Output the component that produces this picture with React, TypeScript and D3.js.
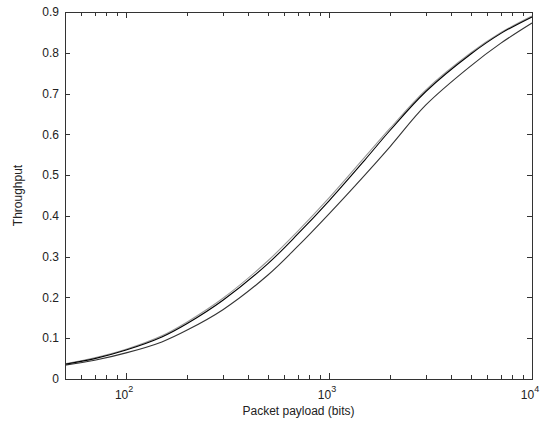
import React from "react";
import * as d3 from "d3";

const payload = [50, 70, 100, 150, 200, 300, 500, 700, 1000, 1500, 2000, 3000, 5000, 7000, 10000];
const throughputA = [0.036, 0.05, 0.071, 0.103, 0.136, 0.193, 0.283, 0.355, 0.437, 0.537, 0.61, 0.705, 0.797, 0.847, 0.888];
const throughputB = [0.037, 0.052, 0.073, 0.106, 0.14, 0.198, 0.29, 0.362, 0.444, 0.544, 0.615, 0.709, 0.8, 0.849, 0.89];
const throughputC = [0.034, 0.046, 0.064, 0.091, 0.12, 0.17, 0.255, 0.325, 0.405, 0.5, 0.57, 0.672, 0.768, 0.823, 0.873];
const yTicks = [0, 0.1, 0.2, 0.3, 0.4, 0.5, 0.6, 0.7, 0.8, 0.9];
const xMajor = [100, 1000, 10000];

const series = [
  { values: throughputC, color: "#333" },
  { values: throughputB, color: "#999" },
  { values: throughputA, color: "#000" },
];

export default function App() {
  const width = 542;
  const height = 427;
  const margin = { top: 12, right: 10, bottom: 48, left: 65 };
  const innerW = width - margin.left - margin.right;
  const innerH = height - margin.top - margin.bottom;

  const x = d3.scaleLog().domain([50, 10000]).range([0, innerW]);
  const y = d3.scaleLinear().domain([0, 0.9]).range([innerH, 0]);

  const line = d3
    .line<number>()
    .x((_, i) => x(payload[i]))
    .y((d) => y(d))
    .curve(d3.curveCatmullRom.alpha(0.5));

  const minor = x.ticks().filter((t) => t > 50 && t < 10000 && !xMajor.includes(t));
  const axisColor = "#333";
  const font = "Arial, 'Liberation Sans', sans-serif";

  return (
    <div style={{ position: "absolute", left: 0, top: 0 }}>
      <svg width={width} height={height} style={{ display: "block", background: "#fff" }}>
        <g transform={`translate(${margin.left},${margin.top})`}>
          {series.map((s, i) => (
            <path key={i} d={line(s.values) || ""} fill="none" stroke={s.color} strokeWidth={1.1} />
          ))}
          <rect x={0.5} y={0.5} width={innerW} height={innerH} fill="none" stroke={axisColor} strokeWidth={1} />
          {yTicks.map((t) => (
            <g key={t}>
              <line x1={0} x2={5} y1={Math.round(y(t)) + 0.5} y2={Math.round(y(t)) + 0.5} stroke={axisColor} />
              <line x1={innerW - 5} x2={innerW} y1={Math.round(y(t)) + 0.5} y2={Math.round(y(t)) + 0.5} stroke={axisColor} />
              <text x={-6} y={y(t)} dy="0.35em" textAnchor="end" fontSize={12} fontFamily={font} fill="#222">
                {t === 0 ? "0" : d3.format(".1f")(t)}
              </text>
            </g>
          ))}
          {minor.map((t) => (
            <g key={t}>
              <line x1={Math.round(x(t)) + 0.5} x2={Math.round(x(t)) + 0.5} y1={innerH} y2={innerH - 4} stroke={axisColor} />
              <line x1={Math.round(x(t)) + 0.5} x2={Math.round(x(t)) + 0.5} y1={0} y2={4} stroke={axisColor} />
            </g>
          ))}
          {xMajor.map((t) => (
            <g key={t}>
              <line x1={Math.round(x(t)) + 0.5} x2={Math.round(x(t)) + 0.5} y1={innerH} y2={innerH - 6} stroke={axisColor} />
              <line x1={Math.round(x(t)) + 0.5} x2={Math.round(x(t)) + 0.5} y1={0} y2={6} stroke={axisColor} />
              <text x={x(t) - 2} y={innerH + 20} textAnchor="middle" fontSize={12} fontFamily={font} fill="#222">
                10
                <tspan dy={-7} fontSize={9}>
                  {Math.round(Math.log10(t))}
                </tspan>
              </text>
            </g>
          ))}
          <text x={innerW / 2} y={innerH + 36} textAnchor="middle" fontSize={12} fontFamily={font} fill="#222">
            Packet payload (bits)
          </text>
          <text
            transform={`translate(${-43},${innerH / 2}) rotate(-90)`}
            textAnchor="middle"
            fontSize={12}
            fontFamily={font}
            fill="#222"
          >
            Throughput
          </text>
        </g>
      </svg>
    </div>
  );
}
